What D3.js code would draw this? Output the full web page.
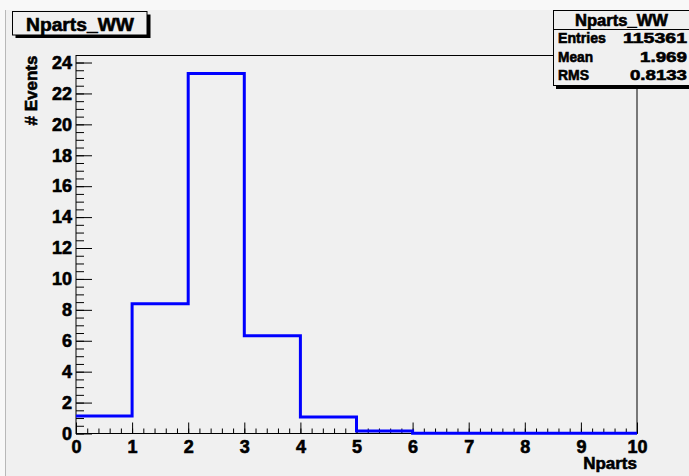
<!DOCTYPE html>
<html><head><meta charset="utf-8">
<script src="https://cdn.jsdelivr.net/npm/d3@7"></script>
<style>html,body{margin:0;padding:0;background:#f8f8f8;}svg{display:block;}</style>
</head><body>
<script>
const binEdges = [0,1,2,3,4,5,6,7,8,9,10];
const values = [1.13, 8.39, 23.29, 6.32, 1.06, 0.16, 0.01, 0.01, 0.01, 0.01];
const xTicks = [0,1,2,3,4,5,6,7,8,9,10];
const yTicks = [0,2,4,6,8,10,12,14,16,18,20,22,24];
const histTitle = "Nparts_WW";
const statsRows = [["Entries","115361"],["Mean","1.969"],["RMS","0.8133"]];
const xTitle = "Nparts", yTitle = "# Events";

const W = 689, H = 476;
const L = 76, R = 637, T = 55.5, B = 433.5;
const FONT = "'Liberation Sans', Arial, Helvetica, sans-serif";
const svg = d3.select("body").append("svg").attr("width", W).attr("height", H)
  .style("font-family", FONT).style("font-weight", "bold");

svg.append("rect").attr("x",0).attr("y",0).attr("width",W).attr("height",H).attr("fill","#f8f8f8");
svg.append("rect").attr("x",6).attr("y",10).attr("width",W-6).attr("height",H-10).attr("fill","#f0f0f0");
svg.append("line").attr("x1",5.5).attr("x2",5.5).attr("y1",10).attr("y2",H).attr("stroke","#b8b8b8");

const ymax = d3.max(values) * 1.05;
const x = d3.scaleLinear().domain([0,10]).range([L,R]);
const y = d3.scaleLinear().domain([0,ymax]).range([B,T]);

// frame
svg.append("rect").attr("x",L).attr("y",T).attr("width",R-L).attr("height",B-T)
  .attr("fill","none").attr("stroke","#000").attr("stroke-width",1);

// x axis ticks
const xMinor = d3.range(0, 10.0001, 0.2);
const gx = svg.append("g").attr("transform",`translate(0,${B})`);
gx.append("g").call(d3.axisTop(x).tickValues(xMinor).tickSize(5).tickFormat(""));
gx.append("g").call(d3.axisTop(x).tickValues(xTicks).tickSize(11).tickFormat(""));
gx.selectAll("path.domain").remove();
gx.selectAll("line").attr("stroke","#000");
const gxl = svg.append("g").attr("transform",`translate(0,${B})`)
  .call(d3.axisBottom(x).tickValues(xTicks).tickSize(0).tickPadding(7).tickFormat(d3.format("d")));
gxl.select("path.domain").remove();
gxl.selectAll("text").attr("font-size",18).attr("font-family",FONT).attr("font-weight","bold").attr("fill","#000");

// y axis ticks
const yMinor = d3.range(0, ymax, 0.5);
const gy = svg.append("g").attr("transform",`translate(${L},0)`);
gy.append("g").call(d3.axisRight(y).tickValues(yMinor).tickSize(8).tickFormat(""));
gy.append("g").call(d3.axisRight(y).tickValues(yTicks).tickSize(16).tickFormat(""));
gy.selectAll("path.domain").remove();
gy.selectAll("line").attr("stroke","#000");
const gyl = svg.append("g").attr("transform",`translate(${L},0)`)
  .call(d3.axisLeft(y).tickValues(yTicks).tickSize(0).tickPadding(4).tickFormat(d3.format("d")));
gyl.select("path.domain").remove();
gyl.selectAll("text").attr("font-size",18).attr("font-family",FONT).attr("font-weight","bold").attr("fill","#000");

// histogram
const pts = [];
values.forEach((v,i)=>{ pts.push([binEdges[i],v]); pts.push([binEdges[i+1],v]); });
const line = d3.line().x(d=>x(d[0])).y(d=>y(d[1]));
svg.append("path").attr("d", line(pts)).attr("fill","none").attr("stroke","#0000ff")
  .attr("stroke-width",3).attr("stroke-linejoin","miter");

// axis titles
svg.append("text").attr("x",R).attr("y",469).attr("text-anchor","end")
  .attr("font-size",17).text(xTitle);
svg.append("text").attr("transform",`translate(37,${T}) rotate(-90)`).attr("text-anchor","end")
  .attr("font-size",17).text(yTitle);

// title box
svg.append("rect").attr("x",15.5).attr("y",14.5).attr("width",135).attr("height",23.5).attr("fill","#000");
svg.append("rect").attr("x",12.5).attr("y",11.5).attr("width",134.5).attr("height",23.5)
  .attr("fill","#f0f0f0").attr("stroke","#000").attr("stroke-width",1);
svg.append("text").attr("x",80).attr("y",30.5).attr("text-anchor","middle").attr("font-size",19)
  .attr("textLength",108).attr("lengthAdjust","spacingAndGlyphs").text(histTitle);

// stats box
const sx = 553, sy = 10, sw = 140, sh = 75;
svg.append("rect").attr("x",sx+3).attr("y",sy+3).attr("width",sw).attr("height",sh+1).attr("fill","#000");
svg.append("rect").attr("x",sx+0.5).attr("y",sy+0.5).attr("width",sw).attr("height",sh)
  .attr("fill","#f0f0f0").attr("stroke","#000").attr("stroke-width",1);
svg.append("line").attr("x1",sx).attr("x2",sx+sw).attr("y1",29.5).attr("y2",29.5).attr("stroke","#000");
svg.append("text").attr("x",621.5).attr("y",26).attr("text-anchor","middle").attr("font-size",16)
  .attr("textLength",93).attr("lengthAdjust","spacingAndGlyphs").text(histTitle);
const rowY = [43, 62, 80];
const labW = [48, 35, 31];
const valW = [64, 47, 57];
statsRows.forEach((r,i)=>{
  svg.append("text").attr("x",558).attr("y",rowY[i]).attr("font-size",15)
    .attr("textLength",labW[i]).attr("lengthAdjust","spacingAndGlyphs").text(r[0]);
  svg.append("text").attr("x",687).attr("y",rowY[i]).attr("text-anchor","end").attr("font-size",15)
    .attr("textLength",valW[i]).attr("lengthAdjust","spacingAndGlyphs").text(r[1]);
});

// heavier glyphs like the original rendering
svg.selectAll("text").attr("stroke","#000").attr("stroke-width",0.6).attr("fill","#000");
</script>
</body></html>
